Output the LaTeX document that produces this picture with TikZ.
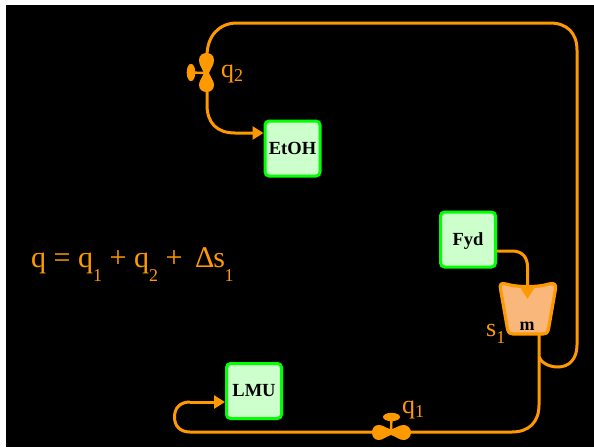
\documentclass[tikz,border=0pt]{standalone}
\usepackage{fontspec}
\setmainfont{Liberation Serif}
\usetikzlibrary{arrows.meta}
\definecolor{pipe}{HTML}{FF9900}
\definecolor{boxfill}{HTML}{CCFFCC}
\definecolor{boxline}{HTML}{00FF00}
\definecolor{tankfill}{HTML}{FAB77C}
\newcommand{\lowsub}[2]{\raisebox{#1}{\fontsize{18}{18}\selectfont #2}}
\tikzset{
  x=1pt,y=-1pt,
  unitbox/.style={draw=boxline,fill=boxfill,line width=3pt,rounded corners=4pt,minimum width=55pt,minimum height=55pt,inner sep=0pt,text height=11.5pt,text depth=0pt,font=\fontsize{18.5}{18.5}\selectfont\bfseries,text=black},
  pipeline/.style={draw=pipe,line width=3pt},
  flow/.style={pipeline,-{Triangle[length=11pt,width=13pt]}},
  lbl/.style={text=pipe,inner sep=0pt,anchor=base west}
}
\begin{document}
\begin{tikzpicture}
\useasboundingbox (0,0) rectangle (594,447);
\fill[white] (0,0) rectangle (594,447);
\fill[black] (6,5) rectangle (594,447);
% units
\node[unitbox] (etoh) at (292.5,148.5) {EtOH};
\node[unitbox] (fyd) at (468,239.5) {Fyd};
\node[unitbox] (lmu) at (254,391) {LMU};
% tank
\coordinate (tankout) at (539,334);
\coordinate (tanktop) at (527.5,299);
\coordinate (tankin) at (539,357);
\draw[draw=pipe,fill=tankfill,line width=3.2pt,line join=round]
  (506,284) .. controls (518,287.5) and (537,287.5) .. (549,284)
  .. controls (554,282.5) and (556.5,284.5) .. (555.5,289)
  -- (548.5,329) .. controls (547.5,333) and (546,334) .. (543,334)
  -- (513,334) .. controls (510,334) and (508.5,333) .. (507.5,329)
  -- (500.5,289) .. controls (499.5,284.5) and (501,282.5) .. (506,284) -- cycle;
\node[inner sep=0pt,font=\fontsize{18}{18}\selectfont\bfseries,text=black] (m) at (527,326) {m};
% valves
\coordinate (vtwo) at (207,73);
\coordinate (vone) at (391,432);
% pipes
\coordinate (vtwotop) at (207,56);
\coordinate (vtwobot) at (207,90);
\coordinate (vonel) at (374,432);
\coordinate (voner) at (408,432);
\draw[pipeline] (vtwotop) .. controls (207,36) and (219,23) .. (237,23)
  -- (550,23) .. controls (567,23) and (577,33) .. (577,50)
  -- (577,345) .. controls (577,359) and (569,367) .. (558,367)
  .. controls (548,367) and (541,362) .. (tankin);
\draw[flow] (vtwobot) -- (207,105) .. controls (207,123) and (217,133) .. (235,133) -- (etoh.west |- 0,133);
\draw[flow] (fyd.east |- 0,251) -- (512,251) .. controls (522,251) and (527.5,257) .. (527.5,267) -- (tanktop);
\draw[pipeline] (tankout) -- (539,405) .. controls (539,422) and (529,432) .. (512,432) -- (voner);
\draw[pipeline] (vonel) -- (190,432) .. controls (180,432) and (174.5,426) .. (174.5,417)
  .. controls (174.5,408) and (180,402) .. (190,402);
\draw[flow] (190,402) -- (lmu.west |- 0,402);
% valve q2
\fill[pipe] (204,73) .. controls (202,68) and (199,65) .. (199,60)
  .. controls (199,55) and (203,53) .. (206.5,53)
  .. controls (210,53) and (214,55) .. (214,60)
  .. controls (214,65) and (211,68) .. (209,73)
  .. controls (211,78) and (214,81) .. (214,85)
  .. controls (214,90) and (210,92) .. (206.5,92)
  .. controls (203,92) and (199,90) .. (199,85)
  .. controls (199,81) and (202,78) .. (204,73) -- cycle;
\draw[pipe,line width=2.4pt] (vtwo) -- (190,72.5);
\fill[pipe] (191,72.5) ellipse [x radius=4.3pt,y radius=8.7pt];
% valve q1
\fill[pipe] (391,429.5) .. controls (385,427.5) and (383,425) .. (378.5,425)
  .. controls (374,425) and (372,429) .. (372,432.5)
  .. controls (372,436) and (374,440) .. (378.5,440)
  .. controls (383,440) and (385,437) .. (391,435)
  .. controls (397,437) and (399,440) .. (404,440)
  .. controls (408,440) and (411,436) .. (411,432.5)
  .. controls (411,429) and (408,425) .. (404,425)
  .. controls (399,425) and (397,427.5) .. (391,429.5) -- cycle;
\draw[pipe,line width=2.4pt] (vone) -- (391.5,417);
\fill[pipe] (391.5,417) ellipse [x radius=8.5pt,y radius=4.2pt];
% labels
\node[lbl,font=\fontsize{26}{26}\selectfont] (lq2) at (221,77) {q\lowsub{-4pt}{2}};
\node[lbl,font=\fontsize{26}{26}\selectfont] (lq1) at (402,413) {q\lowsub{-4pt}{1}};
\node[lbl,font=\fontsize{26}{26}\selectfont] (ls1) at (486,336) {s\lowsub{-7pt}{1}};
\node[lbl,font=\fontsize{30}{30}\selectfont] (eq) at (31,267) {q = q\lowsub{-14pt}{1} + q\lowsub{-14pt}{2} +\hspace{0.42em}Δ\kern-1pt s\kern-0.5pt\lowsub{-14pt}{1}};
\end{tikzpicture}
\end{document}
